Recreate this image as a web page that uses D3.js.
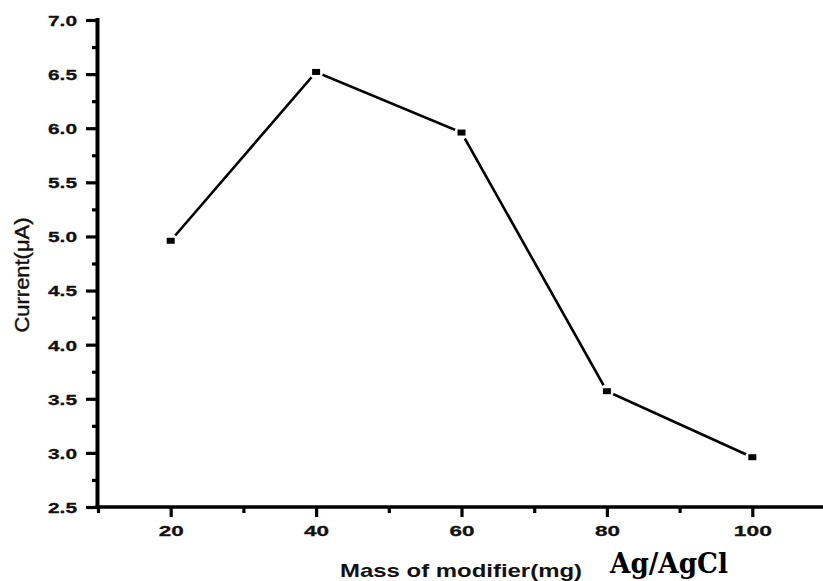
<!DOCTYPE html>
<html>
<head>
<meta charset="utf-8">
<script src="https://cdn.jsdelivr.net/npm/d3@7/dist/d3.min.js"></script>
<style>
  html, body { margin: 0; padding: 0; background: #fff; }
  svg { display: block; }
</style>
</head>
<body>
<svg id="chart" width="823" height="581"></svg>
<script>
// ---- data ----
const masses = [20, 40, 60, 80, 100];
const currents = [4.96, 6.52, 5.96, 3.57, 2.96];
const xTickValues = [20, 40, 60, 80, 100];
const xMinorTickValues = [10, 30, 50, 70, 90, 110];
const yTickValues = [2.5, 3.0, 3.5, 4.0, 4.5, 5.0, 5.5, 6.0, 6.5, 7.0];
const yMinorTickValues = [2.75, 3.25, 3.75, 4.25, 4.75, 5.25, 5.75, 6.25, 6.75];
const xTitle = "Mass of modifier(mg)";
const yTitle = "Current(μA)";
const note = "Ag/AgCl";

const svg = d3.select("#chart");
const x = d3.scaleLinear().domain([10, 110]).range([98, 825]);
const y = d3.scaleLinear().domain([2.5, 7.0]).range([507, 20]);

const sans = "'Liberation Sans', Arial, sans-serif";

// axes (drawn with d3 axis, then styled)
const yAxis = svg.append("g").attr("transform", "translate(98,0)")
  .call(d3.axisLeft(y).tickValues(yTickValues).tickSize(12).tickPadding(9).tickFormat(d3.format(".1f")));
const yMinor = svg.append("g").attr("transform", "translate(98,0)")
  .call(d3.axisLeft(y).tickValues(yMinorTickValues).tickSize(6).tickFormat(""));
const xAxis = svg.append("g").attr("transform", "translate(0,507)")
  .call(d3.axisBottom(x).tickValues(xTickValues).tickSize(10).tickPadding(8));
const xMinor = svg.append("g").attr("transform", "translate(0,507)")
  .call(d3.axisBottom(x).tickValues(xMinorTickValues).tickSize(6).tickFormat(""));

[yAxis, yMinor, xAxis, xMinor].forEach(g => {
  g.select(".domain").remove();
  g.selectAll(".tick line").attr("stroke", "#000").attr("stroke-width", 3.2);
});
// tick labels
yAxis.selectAll(".tick text")
  .attr("font-family", sans).attr("font-weight", "bold").attr("font-size", 15)
  .attr("fill", "#111").attr("stroke", "#111").attr("stroke-width", 0.3).attr("dy", "0.36em")
  .attr("textLength", 29).attr("lengthAdjust", "spacingAndGlyphs");
xAxis.selectAll(".tick text")
  .attr("font-family", sans).attr("font-weight", "bold").attr("font-size", 15)
  .attr("fill", "#111").attr("stroke", "#111").attr("stroke-width", 0.3)
  .attr("textLength", d => d >= 100 ? 38 : 25).attr("lengthAdjust", "spacingAndGlyphs");

// axis lines
svg.append("line").attr("x1", 97.5).attr("x2", 97.5).attr("y1", y(7.0) - 2).attr("y2", 509)
  .attr("stroke", "#000").attr("stroke-width", 4);
svg.append("line").attr("x1", 95.5).attr("x2", 823).attr("y1", 507).attr("y2", 507)
  .attr("stroke", "#000").attr("stroke-width", 3.5);

// line
const pts = masses.map((m, i) => [m, currents[i]]);
svg.append("path").datum(pts)
  .attr("fill", "none").attr("stroke", "#000").attr("stroke-width", 2.6)
  .attr("d", d3.line().x(d => x(d[0])).y(d => y(d[1])));
// gaps around markers
svg.selectAll("circle.gap").data(pts).enter().append("circle")
  .attr("cx", d => x(d[0])).attr("cy", d => y(d[1])).attr("r", 7).attr("fill", "#fff");
// markers
svg.selectAll("rect.mk").data(pts).enter().append("rect")
  .attr("x", d => x(d[0]) - 4).attr("y", d => y(d[1]) - 3)
  .attr("width", 8).attr("height", 6).attr("fill", "#000");

// titles
svg.append("text").attr("x", 340).attr("y", 577)
  .attr("font-family", sans).attr("font-weight", "bold").attr("font-size", 19)
  .attr("fill", "#111").attr("textLength", 242).attr("lengthAdjust", "spacingAndGlyphs")
  .text(xTitle);
svg.append("text").attr("transform", "translate(28.5,275) rotate(-90)")
  .attr("text-anchor", "middle")
  .attr("font-family", sans).attr("font-size", 21)
  .attr("fill", "#111").attr("stroke", "#111").attr("stroke-width", 0.4)
  .attr("textLength", 115).attr("lengthAdjust", "spacingAndGlyphs")
  .text(yTitle);
svg.append("text").attr("x", 610).attr("y", 573)
  .attr("font-family", "'DejaVu Serif', 'Liberation Serif', serif").attr("font-weight", "bold").attr("font-size", 27)
  .attr("fill", "#000").attr("textLength", 118).attr("lengthAdjust", "spacingAndGlyphs")
  .text(note);
</script>
</body>
</html>
